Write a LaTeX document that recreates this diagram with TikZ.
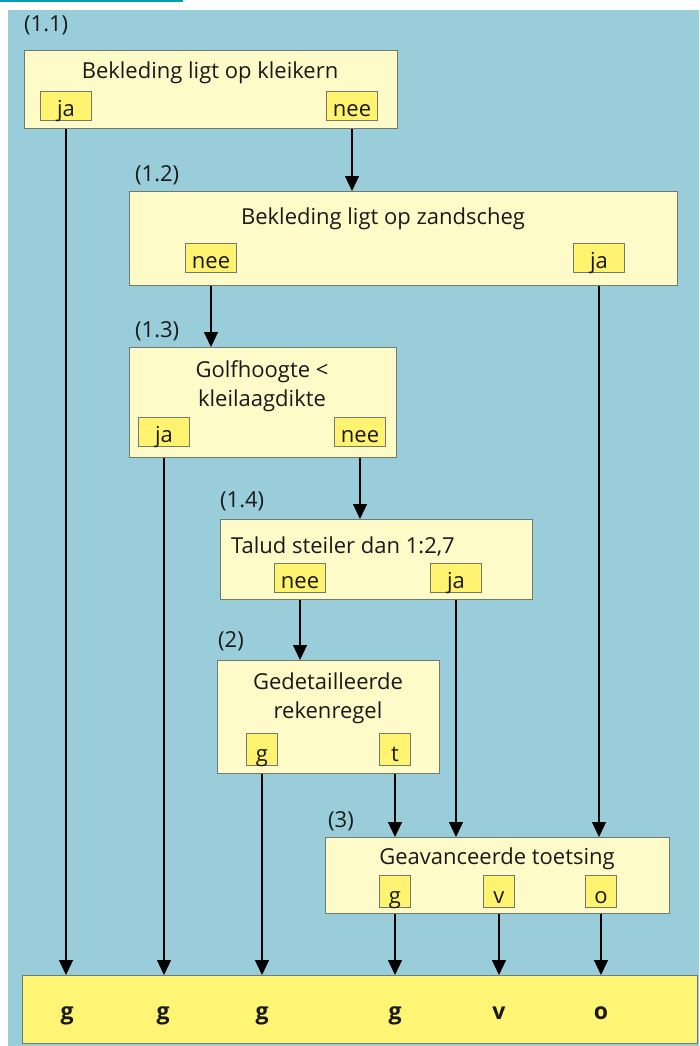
\documentclass[tikz,border=0pt]{standalone}
\usepackage{fontspec}
\setmainfont{Open Sans}
\usetikzlibrary{arrows.meta,positioning}
\definecolor{achtergrond}{RGB}{153,205,218}
\definecolor{vakgeel}{RGB}{255,251,200}
\definecolor{keuzegeel}{RGB}{255,243,112}
\definecolor{eindgeel}{RGB}{255,245,116}
\definecolor{randgrijs}{RGB}{112,122,112}
\definecolor{lijnteal}{RGB}{0,160,176}
\tikzset{
  vak/.style={draw=randgrijs, fill=vakgeel, line width=1.3pt, anchor=north west, inner sep=0pt},
  keuze/.style={draw=randgrijs, fill=keuzegeel, line width=1pt, inner sep=0pt,
    minimum width=51pt, minimum height=29pt, text height=25pt, text depth=4pt,
    font=\fontsize{22}{26}\selectfont, text=black!90},
  uitkomst/.style={keuze, minimum width=31pt, minimum height=32pt, text height=28pt},
  vraag/.style={anchor=base, align=center, inner sep=0pt, font=\fontsize{22}{29}\selectfont, text=black!90},
  stapnr/.style={anchor=base west, inner sep=0pt, font=\fontsize{22}{26}\selectfont, text=black!90},
  pijl/.style={line width=1.2pt, -{Triangle[width=14pt,length=15pt]}},
  oordeel/.style={anchor=base, inner sep=0pt, font=\bfseries\fontsize{23}{27}\selectfont, text=black!90},
}
\begin{document}
\begin{tikzpicture}[x=1pt, y=-1pt]
  \useasboundingbox (0,0) rectangle (699,1046);
  \fill[white] (0,0) rectangle (699,1046);
  \fill[achtergrond] (8,10) rectangle (699,1046);
  \draw[lijnteal, line width=2pt] (0,1) -- (183,1);

  % vragen
  \node[vak, minimum width=373pt, minimum height=78pt] (b11) at (24,50) {};
  \node[vak, minimum width=548pt, minimum height=94pt] (b12) at (129,191) {};
  \node[vak, minimum width=267pt, minimum height=110pt] (b13) at (129,347) {};
  \node[vak, minimum width=312pt, minimum height=80pt] (b14) at (220,519) {};
  \node[vak, minimum width=222pt, minimum height=113pt] (b2) at (217,660) {};
  \node[vak, minimum width=344pt, minimum height=76pt] (b3) at (325,837) {};
  \node[vak, fill=eindgeel, minimum width=675pt, minimum height=68pt] (eind) at (22,975) {};

  \node[stapnr] (s11) at (24,32) {(1.1)};
  \node[stapnr] (s12) at (135,181) {(1.2)};
  \node[stapnr] (s13) at (135,337) {(1.3)};
  \node[stapnr] (s14) at (220,507) {(1.4)};
  \node[stapnr] (s2) at (218,647) {(2)};
  \node[stapnr] (s3) at (328,827) {(3)};

  \node[vraag] (t11) at (210,79) {Bekleding ligt op kleikern};
  \node[vraag] (t12) at (383,224) {Bekleding ligt op zandscheg};
  \node[vraag, anchor=north] (t13) at (262,360) {Golfhoogte <\\kleilaagdikte};
  \node[vraag] (t14) at (343,553) {Talud steiler dan 1:2,7};
  \node[vraag, anchor=north] (t2) at (328,673) {Gedetailleerde\\rekenregel};
  \node[vraag] (t3) at (497,864) {Geavanceerde toetsing};

  % antwoorden
  \node[keuze] (ja11) at (66,106) {ja};
  \node[keuze] (nee11) at (352,106) {nee};
  \node[keuze] (nee12) at (211,258) {nee};
  \node[keuze] (ja12) at (599,258) {ja};
  \node[keuze] (ja13) at (164,432) {ja};
  \node[keuze] (nee13) at (360,432) {nee};
  \node[keuze] (nee14) at (300,578) {nee};
  \node[keuze] (ja14) at (456,578) {ja};
  \node[uitkomst] (g2) at (262,749) {g};
  \node[uitkomst] (t2u) at (395,749) {t};
  \node[uitkomst] (g3) at (395,891) {g};
  \node[uitkomst] (v3) at (499,891) {v};
  \node[uitkomst] (o3) at (601,891) {o};

  % pijlen
  \draw[pijl] (ja11 |- b11.south) -- (ja11 |- eind.north);
  \draw[pijl] (nee11 |- b11.south) -- (nee11 |- b12.north);
  \draw[pijl] (nee12 |- b12.south) -- (nee12 |- b13.north);
  \draw[pijl] (ja12 |- b12.south) -- (ja12 |- b3.north);
  \draw[pijl] (ja13 |- b13.south) -- (ja13 |- eind.north);
  \draw[pijl] (nee13 |- b13.south) -- (nee13 |- b14.north);
  \draw[pijl] (nee14 |- b14.south) -- (nee14 |- b2.north);
  \draw[pijl] (ja14 |- b14.south) -- (ja14 |- b3.north);
  \draw[pijl] (g2 |- b2.south) -- (g2 |- eind.north);
  \draw[pijl] (t2u |- b2.south) -- (t2u |- b3.north);
  \draw[pijl] (g3 |- b3.south) -- (g3 |- eind.north);
  \draw[pijl] (v3 |- b3.south) -- (v3 |- eind.north);
  \draw[pijl] (o3 |- b3.south) -- (o3 |- eind.north);

  % oordelen
  \node[oordeel] (e1) at (67,1019) {g};
  \node[oordeel] (e2) at (163,1019) {g};
  \node[oordeel] (e3) at (262,1019) {g};
  \node[oordeel] (e4) at (395,1019) {g};
  \node[oordeel] (e5) at (499,1019) {v};
  \node[oordeel] (e6) at (601,1019) {o};
\end{tikzpicture}
\end{document}
